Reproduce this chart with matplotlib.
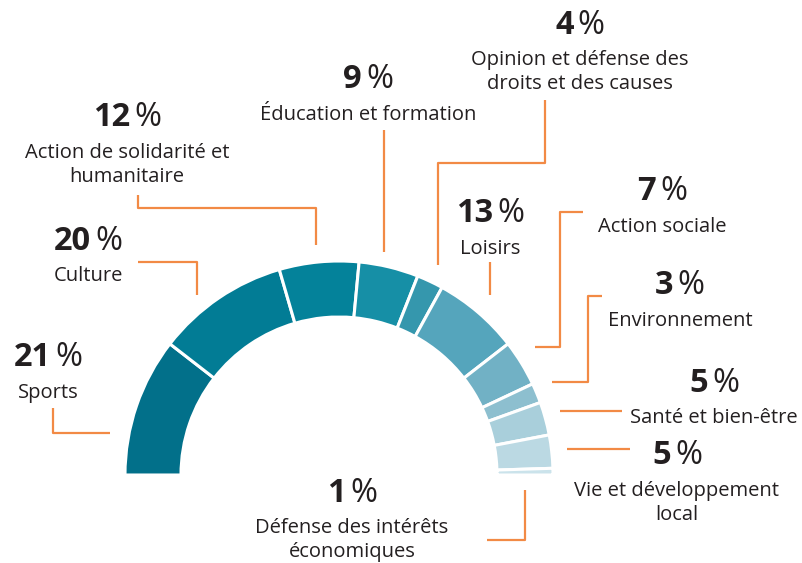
import matplotlib.pyplot as plt
from matplotlib.offsetbox import TextArea, HPacker, AnnotationBbox

# data
labels = ['Sports', 'Culture', 'Action de solidarité et\nhumanitaire',
          'Éducation et formation', 'Opinion et défense des\ndroits et des causes',
          'Loisirs', 'Action sociale', 'Environnement', 'Santé et bien-être',
          'Vie et développement\nlocal', 'Défense des intérêts\néconomiques']
values = [21, 20, 12, 9, 4, 13, 7, 3, 5, 5, 1]
colors = ['#02708a', '#027c95', '#04829a', '#168fa6', '#3597ad', '#55a5bc',
          '#71b1c5', '#8dbfcf', '#a9cfdb', '#bbd9e3', '#cbe3eb']

# label placement (pixel coords, y from top)
lab_pos = [(48, 358), (88, 241), (127, 118), (368, 80), (580, 25), (490, 214),
           (662, 192), (680, 286), (714, 383), (677, 456), (352, 493)]
leaders = [
    [(53, 408), (53, 433), (110, 433)],
    [(138, 262), (197, 262), (197, 295)],
    [(138, 195), (138, 208), (316, 208), (316, 245)],
    [(384, 130), (384, 252)],
    [(545, 100), (545, 163), (438, 163), (438, 265)],
    [(490, 262), (490, 295)],
    [(583, 212), (560, 212), (560, 347), (535, 347)],
    [(602, 296), (588, 296), (588, 382), (552, 382)],
    [(622, 411), (560, 411)],
    [(630, 449), (567, 449)],
    [(525, 490), (525, 540), (487, 540)],
]

W, H = 803, 563
orange = '#f28a45'
dark = '#231f20'
font = 'Open Sans'

fig = plt.figure(figsize=(W / 100, H / 100), dpi=100)
ax = fig.add_axes([0, 0, 1, 1])

cx, cy, r = 339, H - 475, 214
ax.pie(values + [sum(values)], colors=colors + ['none'], startangle=180,
       counterclock=False, center=(cx, cy), radius=r,
       wedgeprops=dict(width=56, edgecolor='white', linewidth=2.2))
ax.patches[-1].set_edgecolor('none')

for pts in leaders:
    xs = [p[0] for p in pts]
    ys = [H - p[1] for p in pts]
    ax.plot(xs, ys, color=orange, lw=1.6, solid_capstyle='butt')

for lab, v, (x, y) in zip(labels, values, lab_pos):
    num = TextArea(str(v), textprops=dict(fontsize=23.5, fontweight='bold',
                                          color=dark, family=font))
    pct = TextArea('%', textprops=dict(fontsize=23.5, color=dark, family=font))
    box = HPacker(children=[num, pct], pad=0, sep=3, align='baseline')
    ab = AnnotationBbox(box, (x, H - y), frameon=False, box_alignment=(0.5, 0.5))
    ax.add_artist(ab)
    ax.text(x, H - y - 25, lab, ha='center', va='top', fontsize=14.5,
            color=dark, family=font, linespacing=1.25)

ax.set_xlim(0, W)
ax.set_ylim(0, H)
ax.set_aspect('auto')
ax.axis('off')
fig.savefig('out.png', dpi=100)
